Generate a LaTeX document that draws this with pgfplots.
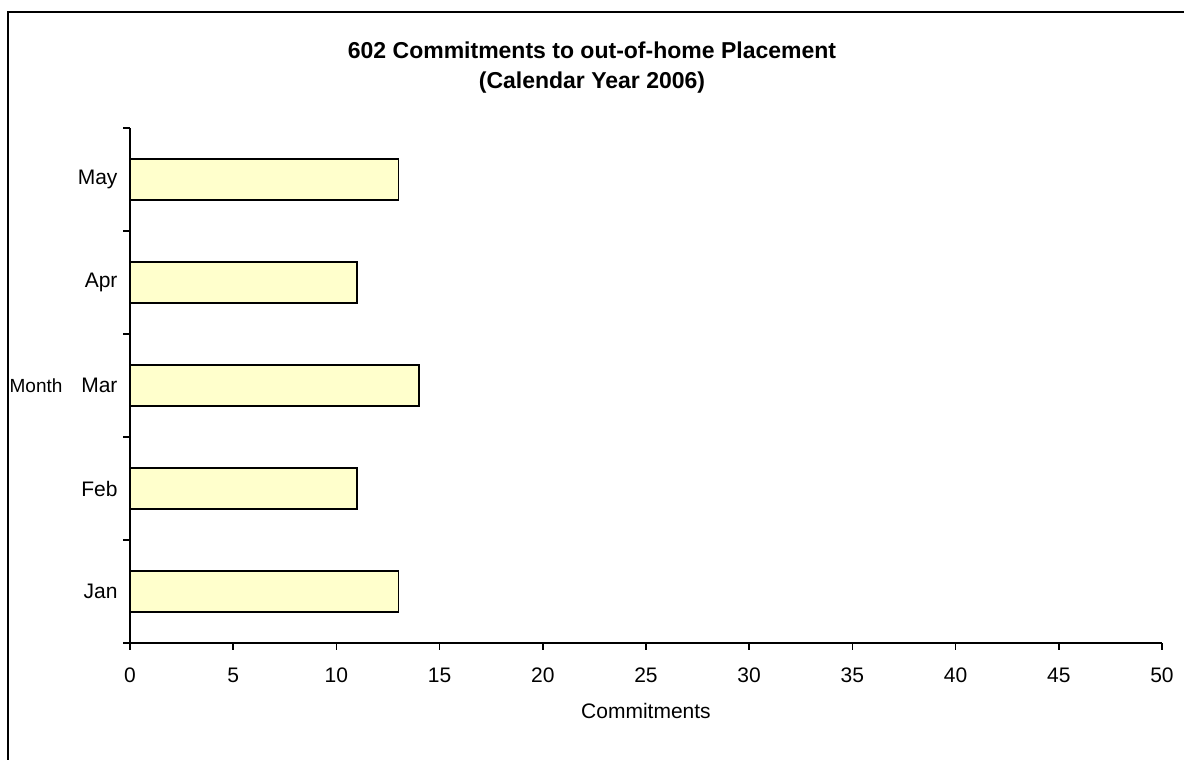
\documentclass[border=0pt]{standalone}
\usepackage{pgfplots}
\pgfplotsset{compat=1.18}
\usepackage{fontspec}
\setmainfont{Liberation Sans}
\definecolor{barfill}{HTML}{FFFFCC}
\begin{document}
\begin{tikzpicture}[x=1pt,y=1pt]
  \useasboundingbox (0,0) rectangle (1184,760);
  % outer chart frame, cut off on the right and at the bottom
  \draw[line width=2pt] (8,0) -- (8,748) -- (1184,748);
  \node[font=\fontsize{23}{30}\selectfont\bfseries, align=center] at (592,692)
    {602 Commitments to out-of-home Placement\\(Calendar Year 2006)};
  \begin{axis}[
      at={(130pt,117pt)}, anchor=south west,
      scale only axis, width=1032pt, height=515pt,
      xbar, bar width=41pt, bar shift=0pt,
      xmin=0, xmax=50, ymin=0.5, ymax=5.5,
      axis lines*=left,
      axis line style={line width=1.6pt},
      tick align=outside,
      major tick length=7pt,
      xtick={0,5,...,50},
      xtick style={draw=black, line width=1.6pt},
      ytick={0.5,1.5,2.5,3.5,4.5,5.5},
      yticklabels={},
      ytick style={draw=black, line width=1.6pt},
      extra y ticks={1,2,3,4,5},
      extra y tick labels={Jan, Feb, Mar, Apr, May},
      extra y tick style={major tick length=0pt},
      ticklabel style={font=\fontsize{21}{25}\selectfont},
      /pgf/number format/assume math mode=true,
      xticklabel style={anchor=north, text height=15pt, text depth=0pt, yshift=-14pt},
      yticklabel style={xshift=-9pt},
      xlabel={Commitments},
      xlabel style={font=\fontsize{21}{25}\selectfont,
        at={(axis description cs:0.5,0)}, anchor=center, yshift=-68pt},
      ylabel={Month},
      ylabel style={font=\fontsize{19}{23}\selectfont, rotate=-90,
        at={(axis description cs:0,0.5)}, anchor=east, xshift=-64pt},
    ]
    \addplot[draw=black, line width=1.6pt, fill=barfill]
      coordinates {(13,1) (11,2) (14,3) (11,4) (13,5)};
  \end{axis}
\end{tikzpicture}
\end{document}
